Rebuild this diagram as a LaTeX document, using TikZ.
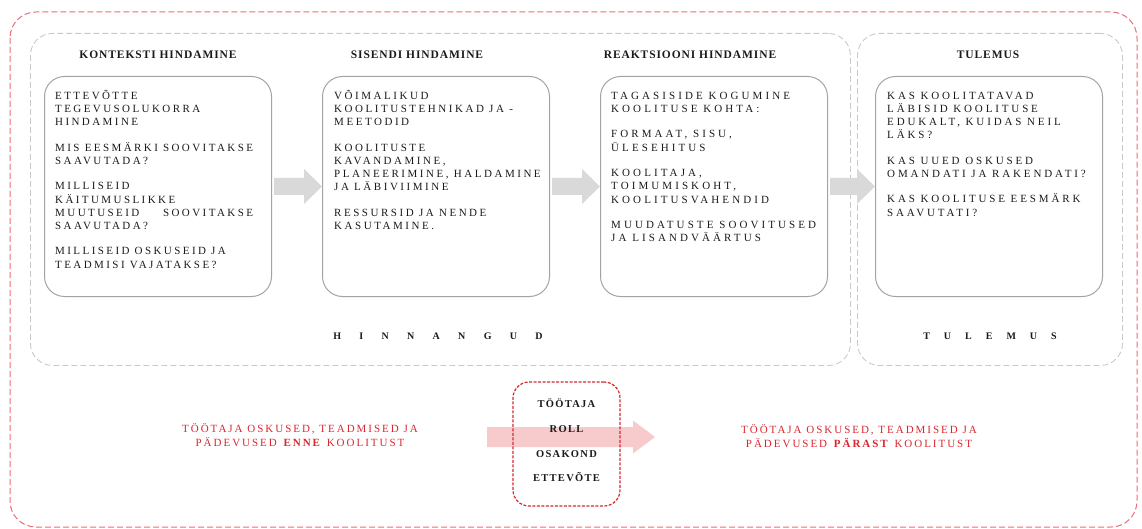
\documentclass[tikz,border=0pt]{standalone}
\usepackage{fontspec}
\setmainfont{Liberation Serif}
% serif families for the different text roles (tracking added per use)
\newfontfamily\bodytrack{Liberation Serif}
\newfontfamily\headtrack[LetterSpace=8]{Liberation Serif}
\newfontfamily\roletrack[LetterSpace=12]{Liberation Serif}
\newfontfamily\redtrack[LetterSpace=18]{Liberation Serif}
\newfontfamily\sectiontrack[LetterSpace=183]{Liberation Serif}
\newfontfamily\resulttrack[LetterSpace=140]{Liberation Serif}
\usetikzlibrary{calc}
\newlength\justw

\definecolor{outred}{HTML}{EE6C74}
\definecolor{dashgray}{HTML}{C9C9C9}
\definecolor{panelgray}{HTML}{A3A3A3}
\definecolor{arrowgray}{HTML}{D9D9D9}
\definecolor{arrowpink}{HTML}{F7CACB}
\definecolor{rolered}{HTML}{D42A30}
\definecolor{txtred}{HTML}{D9262E}
\definecolor{ink}{HTML}{1A1A1A}

\tikzset{
  outerframe/.style={draw=outred, line width=1pt, dash pattern=on 6pt off 3pt, rounded corners=26pt},
  groupframe/.style={draw=dashgray, line width=0.9pt, dash pattern=on 6pt off 3pt,
    rounded corners=22pt, anchor=north west, inner sep=0pt},
  panel/.style={draw=panelgray, line width=1pt, rounded corners=20pt,
    minimum width=227pt, minimum height=220pt, anchor=north west, inner sep=0pt},
  head/.style={font=\fontsize{11.5}{13}\selectfont\headtrack\bfseries, text=ink, inner sep=0pt},
  body/.style={font=\fontsize{11}{13.2}\selectfont\bodytrack\addfontfeature{LetterSpace=#1},
    text=ink, align=left, anchor=north west, inner sep=0pt},
  sectionlabel/.style={font=\fontsize{10}{12}\selectfont\bfseries, text=ink, inner sep=0pt},
  rolebox/.style={draw=rolered, line width=1.2pt, dash pattern=on 3pt off 1.5pt,
    rounded corners=16pt, minimum width=107pt, minimum height=124pt, align=center,
    font=\fontsize{10.5}{24.6}\selectfont\roletrack\bfseries, text=ink, text depth=7pt},
  redlabel/.style={font=\fontsize{11}{13.5}\selectfont\redtrack, text=txtred, align=center, inner sep=0pt},
}
\newcommand\gap{\\[12.3pt]}

% broad grey arrow from the right side of one panel to the left side of the next
\newcommand\stagearrow[2]{%
  \fill[arrowgray] let \p1=(#1.east), \p2=(#2.west) in
    (\x1+2pt,\y1+8.5pt) -- (\x2-18pt,\y1+8.5pt) -- (\x2-18pt,\y1+17.5pt) -- (\x2,\y1)
    -- (\x2-18pt,\y1-17.5pt) -- (\x2-18pt,\y1-8.5pt) -- (\x1+2pt,\y1-8.5pt) -- cycle;}

\begin{document}
\begin{tikzpicture}[x=1pt,y=-1pt]
\useasboundingbox (0,0) rectangle (1142,529);

% outer frame
\draw[outerframe] (10,12) rectangle (1137,527);

% the two groups
\node[groupframe, minimum width=820pt, minimum height=332pt] (evalgroup) at (30,33) {};
\node[groupframe, minimum width=265pt, minimum height=332pt] (resultgroup) at (857,33) {};

% column headings
\node[head] (h1) at (158,55) {KONTEKSTI HINDAMINE};
\node[head] (h2) at (417,55) {SISENDI HINDAMINE};
\node[head] (h3) at (690,55) {REAKTSIOONI HINDAMINE};
\node[head] (h4) at (988,55) {TULEMUS};

% panels
\node[panel] (b1) at (44,76) {};
\node[panel] (b2) at (322,76) {};
\node[panel] (b3) at (600,76) {};
\node[panel] (b4) at (875,76) {};

% panel texts
\node[body=22] (t1) at (55,89) {\rule{0pt}{10pt}ETTEVÕTTE\\
  TEGEVUSOLUKORRA\\
  HINDAMINE\gap
  MIS EESMÄRKI SOOVITAKSE\\
  SAAVUTADA?\gap
  MILLISEID\\
  KÄITUMUSLIKKE\\
  \settowidth\justw{MIS EESMÄRKI SOOVITAKSE}\makebox[\justw][s]{MUUTUSEID SOOVITAKSE}\\
  SAAVUTADA?\gap
  MILLISEID OSKUSEID JA\\
  TEADMISI VAJATAKSE?};

\node[body=23] (t2) at (334,89) {\rule{0pt}{10pt}VÕIMALIKUD\\
  KOOLITUSTEHNIKAD JA -\\
  MEETODID\gap
  KOOLITUSTE\\
  KAVANDAMINE,\\
  PLANEERIMINE, HALDAMINE\\
  JA LÄBIVIIMINE\gap
  RESSURSID JA NENDE\\
  KASUTAMINE.};

\node[body=28] (t3) at (611,89) {\rule{0pt}{10pt}TAGASISIDE KOGUMINE\\
  KOOLITUSE KOHTA:\gap
  FORMAAT, SISU,\\
  ÜLESEHITUS\gap
  KOOLITAJA,\\
  TOIMUMISKOHT,\\
  KOOLITUSVAHENDID\gap
  MUUDATUSTE SOOVITUSED\\
  JA LISANDVÄÄRTUS};

\node[body=26] (t4) at (887,89) {\rule{0pt}{10pt}KAS KOOLITATAVAD\\
  LÄBISID KOOLITUSE\\
  EDUKALT, KUIDAS NEIL\\
  LÄKS?\gap
  KAS UUED OSKUSED\\
  OMANDATI JA RAKENDATI?\gap
  KAS KOOLITUSE EESMÄRK\\
  SAAVUTATI?};

% arrows between panels
\stagearrow{b1}{b2}
\stagearrow{b2}{b3}
\stagearrow{b3}{b4}

% group labels
\node[sectionlabel] (evallabel) at (438,336) {\sectiontrack HINNANGUD};
\node[sectionlabel] (resultlabel) at (990,336) {\resulttrack TULEMUS};

% before / after flow
\coordinate (flowstart) at (487,437);
\coordinate (flowend) at (655,437);
\fill[arrowpink] let \p1=(flowstart), \p2=(flowend) in
  (\x1,\y1+10pt) -- (\x2-22pt,\y1+10pt) -- (\x2-22pt,\y1+16.5pt) -- (\x2,\y1)
  -- (\x2-22pt,\y1-16.5pt) -- (\x2-22pt,\y1-10pt) -- (\x1,\y1-10pt) -- cycle;

\node[rolebox] (role) at (566.5,444) {TÖÖTAJA\\ROLL\\OSAKOND\\ETTEVÕTE};

\node[redlabel] (before) at (300,435) {TÖÖTAJA OSKUSED, TEADMISED JA\\PÄDEVUSED \textbf{ENNE} KOOLITUST};
\node[redlabel] (after) at (859,436) {TÖÖTAJA OSKUSED, TEADMISED JA\\PÄDEVUSED \textbf{PÄRAST} KOOLITUST};
\end{tikzpicture}
\end{document}
